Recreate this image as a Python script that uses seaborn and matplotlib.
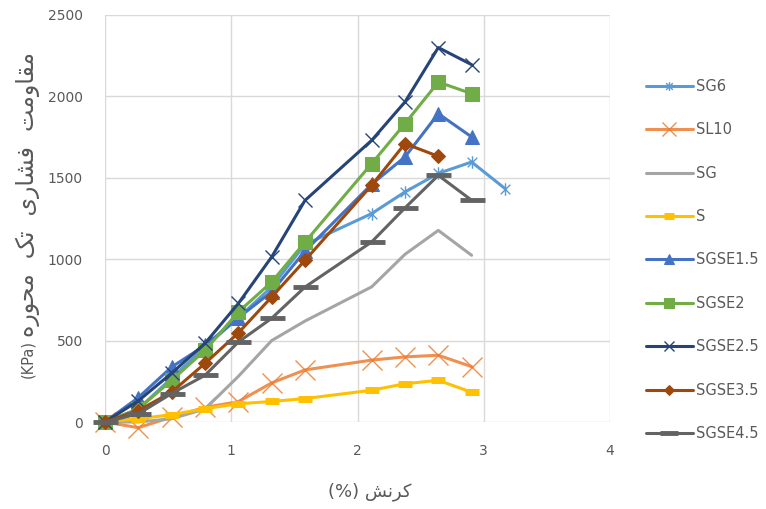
import matplotlib
matplotlib.use("Agg")
import matplotlib.pyplot as plt
from matplotlib.path import Path
import seaborn as sns
import pandas as pd

# Strain steps (%)
strain = [0, 0.264, 0.528, 0.792, 1.056, 1.32, 1.584, 2.112, 2.376, 2.64, 2.904, 3.168]

# Unconfined compressive strength (kPa) for each mix
sg6 = [0, 80, 270, 460, 640, 830, 1090, 1280, 1413, 1527, 1597, 1434]
sl10 = [0, -35, 30, 90, 125, 240, 320, 380, 400, 410, 340]
sg = [0, 0, 20, 80, 280, 500, 620, 830, 1030, 1177, 1024]
s = [0, 20, 45, 82, 112, 126, 144, 195, 235, 256, 183]
sgse15 = [0, 150, 338, 470, 640, 800, 1050, 1460, 1628, 1894, 1751]
sgse2 = [0, 80, 256, 440, 676, 860, 1105, 1587, 1833, 2088, 2017]
sgse25 = [0, 130, 300, 483, 728, 1014, 1361, 1730, 1966, 2300, 2195]
sgse35 = [0, 70, 184, 360, 547, 768, 993, 1454, 1710, 1632]
sgse45 = [0, 50, 175, 287, 491, 637, 829, 1106, 1315, 1515, 1362]

series_names = ["SG6", "SL10", "SG", "S", "SGSE1.5", "SGSE2", "SGSE2.5", "SGSE3.5", "SGSE4.5"]
series_values = [sg6, sl10, sg, s, sgse15, sgse2, sgse25, sgse35, sgse45]

# Persian letters -> (isolated, final, initial, medial) presentation forms
FORMS = {
    "ا": ("\uFE8D", "\uFE8E", None, None),
    "ت": ("\uFE95", "\uFE96", "\uFE97", "\uFE98"),
    "ح": ("\uFEA1", "\uFEA2", "\uFEA3", "\uFEA4"),
    "ر": ("\uFEAD", "\uFEAE", None, None),
    "ش": ("\uFEB5", "\uFEB6", "\uFEB7", "\uFEB8"),
    "ف": ("\uFED1", "\uFED2", "\uFED3", "\uFED4"),
    "ق": ("\uFED5", "\uFED6", "\uFED7", "\uFED8"),
    "م": ("\uFEE1", "\uFEE2", "\uFEE3", "\uFEE4"),
    "ن": ("\uFEE5", "\uFEE6", "\uFEE7", "\uFEE8"),
    "ه": ("\uFEE9", "\uFEEA", "\uFEEB", "\uFEEC"),
    "و": ("\uFEED", "\uFEEE", None, None),
    "ی": ("\uFBFC", "\uFBFD", "\uFBFE", "\uFBFF"),
    "ک": ("\uFB8E", "\uFB8F", "\uFB90", "\uFB91"),
}


def shape_rtl(text):
    """Join Persian letters and return them in visual (left-to-right) order."""
    out = []
    n = len(text)
    for i, ch in enumerate(text):
        if ch not in FORMS:
            out.append(ch)
            continue
        prev_ch = text[i - 1] if i > 0 else ""
        next_ch = text[i + 1] if i < n - 1 else ""
        joins_prev = prev_ch in FORMS and FORMS[prev_ch][2] is not None
        joins_next = next_ch in FORMS and FORMS[ch][2] is not None
        iso, fin, ini, med = FORMS[ch]
        if joins_prev and joins_next:
            out.append(med)
        elif joins_prev:
            out.append(fin)
        elif joins_next:
            out.append(ini)
        else:
            out.append(iso)
    return "".join(reversed(out))


y_words = shape_rtl("مقاومت  فشاری  تک  محوره")
y_unit = "(KPa)"
x_label = "(%) " + shape_rtl("کرنش")

sns.set_theme(style="whitegrid")
plt.rcParams["font.family"] = ["DejaVu Sans"]

# Excel-style asterisk: an x with a vertical stroke
star = Path([(-1, -1), (1, 1), (-1, 1), (1, -1), (0, -1.3), (0, 1.3)],
            [Path.MOVETO, Path.LINETO, Path.MOVETO, Path.LINETO, Path.MOVETO, Path.LINETO])

styles = {
    "SG6": dict(color="#5B9BD5", marker=star, markersize=9, markeredgewidth=1.0),
    "SL10": dict(color="#ED7D31", marker="x", markersize=14, markeredgewidth=1.0, alpha=0.85),
    "SG": dict(color="#A5A5A5", marker=None),
    "S": dict(color="#FFC000", marker="_", markersize=10, markeredgewidth=5),
    "SGSE1.5": dict(color="#4472C4", marker="^", markersize=10),
    "SGSE2": dict(color="#70AD47", marker="s", markersize=10),
    "SGSE2.5": dict(color="#264478", marker="x", markersize=10, markeredgewidth=1.0),
    "SGSE3.5": dict(color="#9E480E", marker="D", markersize=7.5),
    "SGSE4.5": dict(color="#636363", marker="_", markersize=18, markeredgewidth=3.5),
}

fig = plt.figure(figsize=(7.66, 5.09), dpi=100)
ax = fig.add_axes([105 / 766, 87 / 509, 505 / 766, 407 / 509])

for name, vals in zip(series_names, series_values):
    df = pd.DataFrame({"strain": strain[:len(vals)], "ucs": vals})
    st = styles[name]
    sns.lineplot(data=df, x="strain", y="ucs", ax=ax, label=name, linewidth=2.2,
                 sort=False, clip_on=False, markeredgecolor=st["color"], **st)

ax.set_xlim(0, 4)
ax.set_ylim(0, 2500)
ax.set_xticks(range(0, 5))
ax.set_yticks(range(0, 2501, 500))
ax.grid(True, color="#D9D9D9", linewidth=1)
for sp in ax.spines.values():
    sp.set_visible(False)
ax.tick_params(axis="both", length=0, labelsize=10, labelcolor="#595959")
ax.tick_params(axis="x", pad=16)
ax.tick_params(axis="y", pad=16)
ax.set_xlabel("")
ax.set_ylabel("")

fig.text(370 / 766, 1 - 492 / 509, x_label, ha="center", va="center",
         fontsize=13, color="#595959")
# y-axis title: Persian words above the unit, read bottom to top
fig.text(28 / 766, 1 - 359 / 509, y_unit, ha="center", va="center",
         rotation=90, fontsize=10.5, color="#595959")
fig.text(28 / 766, 1 - 337 / 509, y_words, ha="center", va="bottom",
         rotation=90, fontsize=17, color="#595959")

leg = ax.legend(loc="center left", bbox_to_anchor=(646 / 766, 1 - 260 / 509),
                bbox_transform=fig.transFigure, frameon=False, fontsize=10.5,
                handlelength=3.2, handletextpad=0.25, labelspacing=1.95,
                borderpad=0, borderaxespad=0, markerscale=0.7)
for t in leg.get_texts():
    t.set_color("#595959")

fig.savefig("out.png", dpi=100)
